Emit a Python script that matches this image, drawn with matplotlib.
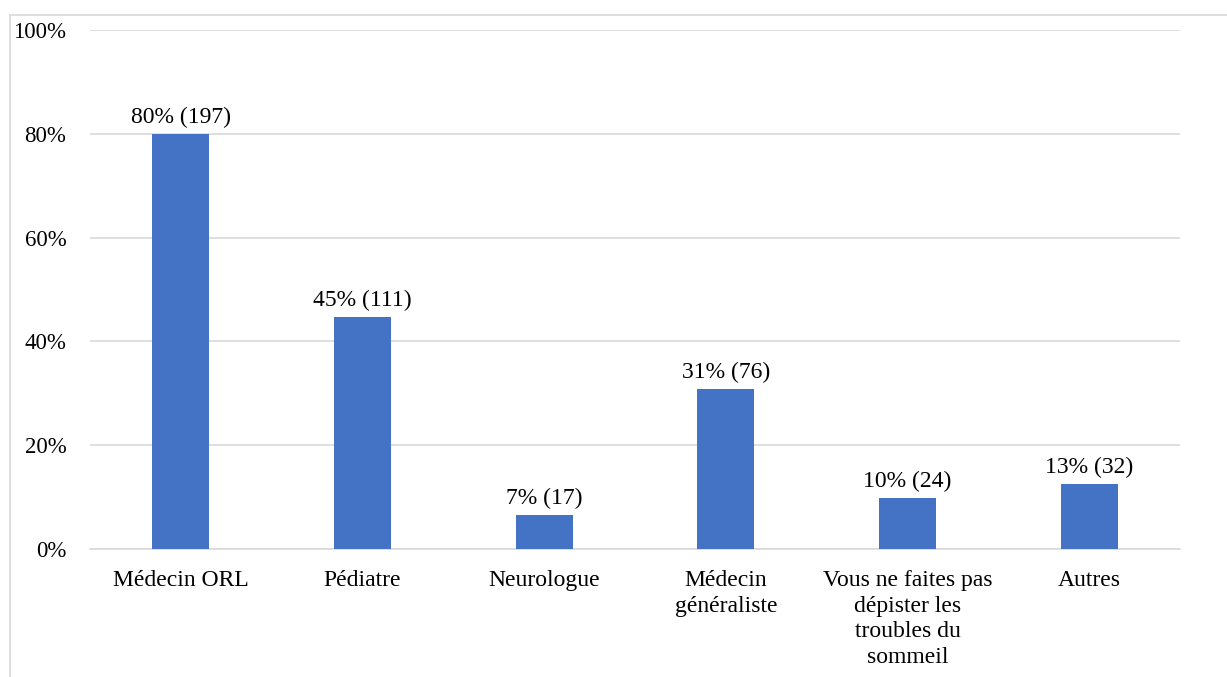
import matplotlib.pyplot as plt
from matplotlib.lines import Line2D
from matplotlib.ticker import FuncFormatter

# data
categories = ["Médecin ORL", "Pédiatre", "Neurologue", "Médecin\ngénéraliste",
              "Vous ne faites pas\ndépister les\ntroubles du\nsommeil", "Autres"]
shares = [0.80, 0.447, 0.065, 0.308, 0.098, 0.125]
labels = ["80% (197)", "45% (111)", "7% (17)", "31% (76)", "10% (24)", "13% (32)"]
y_ticks = [0, 0.2, 0.4, 0.6, 0.8, 1.0]

plt.rcParams['font.family'] = ['Liberation Serif', 'DejaVu Serif']

W, H = 1227, 677
fig = plt.figure(figsize=(W / 100, H / 100), dpi=100)
ax = fig.add_axes([90 / W, 1 - 549 / H, 1090 / W, 519 / H])

x = range(len(categories))
bars = ax.bar(x, shares, width=0.315, color="#4472C4", zorder=3)
for b, lab in zip(bars, labels):
    ax.text(b.get_x() + b.get_width() / 2, b.get_height() + 0.012, lab,
            ha="center", va="bottom", fontsize=17, color="#000000")

ax.set_xlim(-0.5, len(categories) - 0.5)
ax.set_ylim(0, 1.0)
ax.set_yticks(y_ticks)
ax.yaxis.set_major_formatter(FuncFormatter(lambda v, p: "{:.0f}%".format(v * 100)))
ax.set_xticks(list(x))
ax.set_xticklabels(categories, fontsize=17, linespacing=1.3, va="top")
ax.tick_params(axis="y", length=0, pad=17, labelsize=16.5)
ax.tick_params(axis="x", length=0, pad=15)

ax.grid(axis="y", color="#D9D9D9", linewidth=1.2, zorder=0)
for s in ["top", "right", "left"]:
    ax.spines[s].set_visible(False)
ax.spines["bottom"].set_color("#D9D9D9")
ax.spines["bottom"].set_linewidth(1.2)
ax.spines["bottom"].set_zorder(2)

# outer chart frame (left and top edges visible)
fig.add_artist(Line2D([10 / W, 10 / W], [0, 1 - 15 / H], color="#D9D9D9", linewidth=1.2))
fig.add_artist(Line2D([10 / W, 1], [1 - 15 / H, 1 - 15 / H], color="#D9D9D9", linewidth=1.2))

fig.savefig("out.png", dpi=100)
